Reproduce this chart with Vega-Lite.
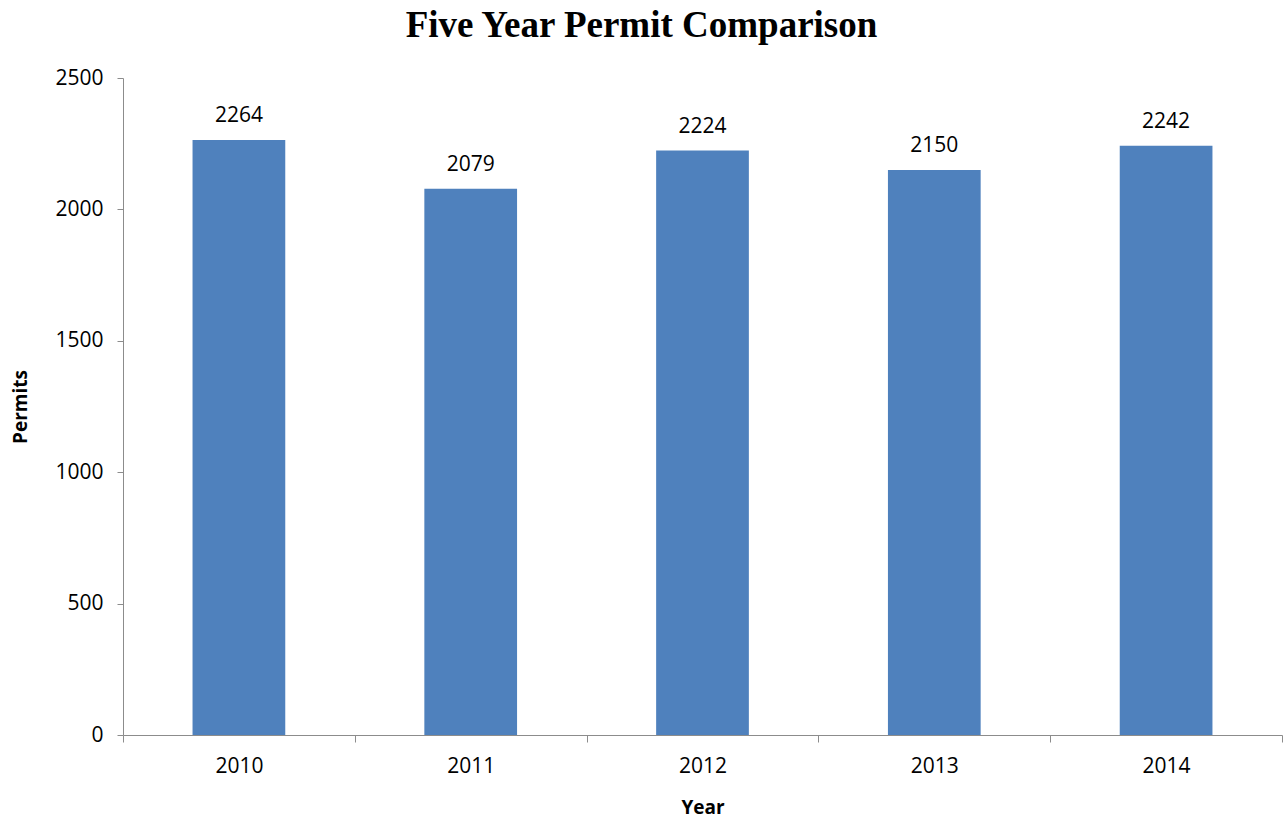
{
  "$schema": "https://vega.github.io/schema/vega-lite/v6.json",
  "autosize": {"type": "none"},
  "padding": {"left": 123, "top": 78, "right": 4, "bottom": 89},
  "width": 1159,
  "height": 657,
  "background": "white",
  "title": {
    "text": "Five Year Permit Comparison",
    "font": "Liberation Serif",
    "fontSize": 37,
    "fontWeight": "bold",
    "color": "black",
    "anchor": "middle",
    "frame": "group",
    "dx": -61,
    "offset": 22
  },
  "data": {
    "values": [
      {"Year": "2010", "Permits": 2264},
      {"Year": "2011", "Permits": 2079},
      {"Year": "2012", "Permits": 2224},
      {"Year": "2013", "Permits": 2150},
      {"Year": "2014", "Permits": 2242}
    ]
  },
  "config": {
    "view": {"stroke": null},
    "axis": {
      "labelFont": "Open Sans",
      "titleFont": "Open Sans",
      "labelColor": "black",
      "titleColor": "black",
      "domainColor": "#8c8c8c",
      "tickColor": "#8c8c8c",
      "labelFontSize": 21,
      "titleFontSize": 19,
      "titleFontWeight": "bold",
      "grid": false
    }
  },
  "encoding": {
    "x": {
      "field": "Year",
      "type": "nominal",
      "scale": {"paddingInner": 0, "paddingOuter": 0},
      "axis": {"labelAngle": 0, "tickBand": "extent", "tickSize": 7, "labelPadding": 13, "titlePadding": 22}
    },
    "y": {
      "field": "Permits",
      "type": "quantitative",
      "scale": {"domain": [0, 2500]},
      "axis": {"values": [0, 500, 1000, 1500, 2000, 2500], "format": "d", "tickSize": 6, "labelPadding": 14, "titlePadding": 24}
    }
  },
  "layer": [
    {"mark": {"type": "bar", "color": "#4F81BD", "width": {"band": 0.4}}},
    {
      "mark": {"type": "text", "baseline": "alphabetic", "dy": -18, "font": "Open Sans", "fontSize": 21, "color": "black"},
      "encoding": {"text": {"field": "Permits", "type": "quantitative"}}
    }
  ]
}
